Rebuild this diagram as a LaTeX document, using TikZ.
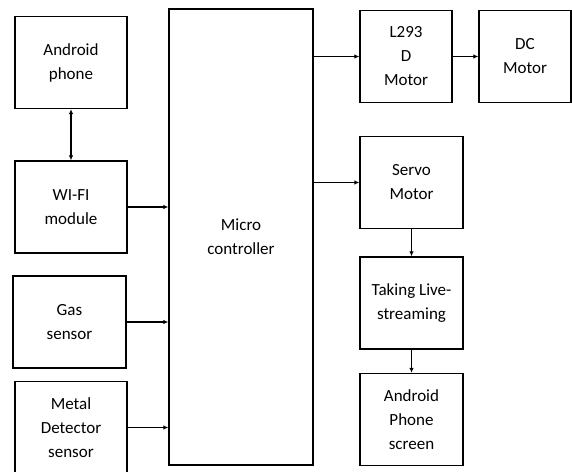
\documentclass[tikz,border=0pt]{standalone}
\usepackage{fontspec}
\setmainfont{Carlito}
\usetikzlibrary{arrows.meta,positioning}

\begin{document}
\begin{tikzpicture}[
    x=1pt, y=1pt,
    block/.style={rectangle, draw=black, line width=1.3pt, align=center, inner sep=2pt,
                  font=\fontsize{17}{24}\selectfont, minimum width=#1, minimum height=92pt},
    block/.default=112pt,
    arrow/.style={-{Latex[length=5pt,width=4.5pt]}, line width=1.3pt},
    darrow/.style={{Latex[length=5pt,width=4.5pt]}-{Latex[length=5pt,width=4.5pt]}, line width=1.3pt}
]
    \useasboundingbox (0,0) rectangle (572,-471);

    % Inputs — left column
    \node[block]       (phone) at (71,-62.5)  {Android\\phone};
    \node[block]       (wifi)  at (71,-207)   {WI-FI\\module};
    \node[block=113pt] (gas)   at (69.5,-322) {Gas\\sensor};
    \node[block]       (metal) at (71,-427.5) {Metal\\Detector\\sensor};

    % Controller
    \node[block=144pt, minimum height=456pt] (micro) at (241,-237) {Micro\\controller};

    % Outputs — right side
    \node[block=92pt]  (driver) at (406,-56.5)   {L293\\D\\Motor};
    \node[block=92pt]  (dc)     at (525,-56.5)   {DC\\Motor};
    \node[block=103pt] (servo)  at (411.5,-182.5) {Servo\\Motor};
    \node[block=103pt] (live)   at (411.5,-303)   {Taking Live-\\streaming};
    \node[block=103pt] (screen) at (411.5,-419.5) {Android\\Phone\\screen};

    % Connections
    \draw[darrow] (phone) -- (wifi);
    \draw[arrow] (wifi)  -- (wifi -| micro.west);
    \draw[arrow] (gas)   -- (gas -| micro.west);
    \draw[arrow] (metal) -- (metal -| micro.west);
    \draw[arrow] (micro.east |- driver) -- (driver);
    \draw[arrow] (driver) -- (dc);
    \draw[arrow] (micro.east |- servo) -- (servo);
    \draw[arrow] (servo) -- (live);
    \draw[arrow] (live)  -- (screen);

\end{tikzpicture}
\end{document}
